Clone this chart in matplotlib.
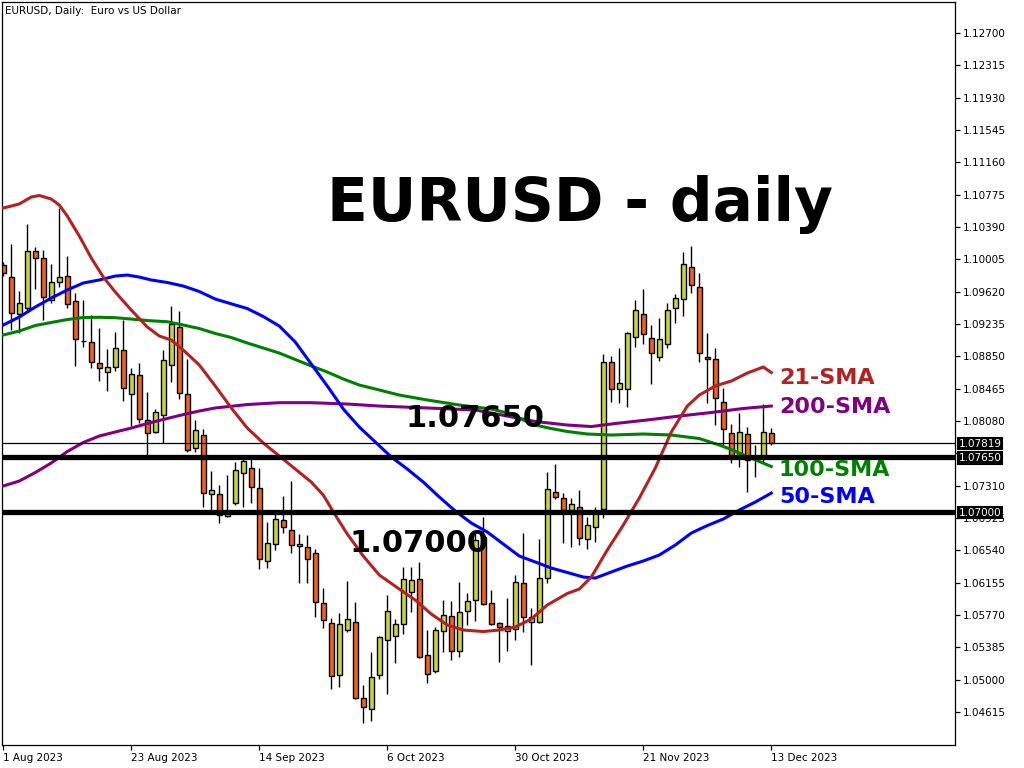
import matplotlib

matplotlib.use("Agg")
import matplotlib.pyplot as plt
import matplotlib.transforms as mtransforms
import numpy as np

# EURUSD daily bars, 1 Aug 2023 .. 13 Dec 2023 (x = trading-day index)
opens = [1.09936, 1.09793, 1.09353, 1.09424, 1.10103, 1.10020, 1.09520, 1.09734, 1.09805, 1.09508,
         1.09031, 1.09019, 1.08769, 1.08662, 1.08722, 1.08924, 1.08400, 1.08627, 1.08091, 1.07948,
         1.08150, 1.08746, 1.09198, 1.08400, 1.07757, 1.07912, 1.07209, 1.07209, 1.06947, 1.07102,
         1.07459, 1.07519, 1.07281, 1.06412, 1.06614, 1.06900, 1.06781, 1.06590, 1.06578, 1.06507,
         1.05911, 1.05673, 1.05054, 1.05590, 1.05685, 1.04780, 1.04649, 1.05054, 1.05471, 1.05518,
         1.05661, 1.06042, 1.06197, 1.05292, 1.05102, 1.05578, 1.05757, 1.05340, 1.05816, 1.05947,
         1.06697, 1.05911, 1.05673, 1.05578, 1.05602, 1.06150, 1.05685, 1.05685, 1.06209, 1.07233,
         1.07162, 1.07019, 1.07055, 1.06674, 1.06816, 1.07031, 1.08781, 1.08460, 1.08460, 1.09079,
         1.09353, 1.09067, 1.08841, 1.08996, 1.09424, 1.09531, 1.09913, 1.09674, 1.08841, 1.08817,
         1.08305, 1.07936, 1.07662, 1.07924, 1.07662, 1.07662, 1.07936]
highs = [1.09972, 1.10186, 1.09627, 1.10425, 1.10151, 1.10115, 1.09948, 1.10615, 1.10044, 1.09603,
         1.09520, 1.09341, 1.09186, 1.08936, 1.09139, 1.09281, 1.08710, 1.08769, 1.08424, 1.08222,
         1.08924, 1.09448, 1.09389, 1.08817, 1.08091, 1.07983, 1.07483, 1.07317, 1.07436, 1.07590,
         1.07674, 1.07650, 1.07519, 1.06876, 1.06971, 1.07186, 1.07364, 1.06733, 1.06721, 1.06555,
         1.06090, 1.05733, 1.05792, 1.06173, 1.05923, 1.04935, 1.05328, 1.05518, 1.06007, 1.05721,
         1.06340, 1.06340, 1.06400, 1.05590, 1.05626, 1.05947, 1.05935, 1.06162, 1.06031, 1.06781,
         1.06936, 1.06066, 1.05685, 1.05971, 1.06245, 1.06745, 1.05852, 1.06674, 1.07471, 1.07567,
         1.07221, 1.07162, 1.07257, 1.06936, 1.07055, 1.08877, 1.08853, 1.08948, 1.09139, 1.09520,
         1.09651, 1.09222, 1.09305, 1.09484, 1.09591, 1.10091, 1.10163, 1.09841, 1.09127, 1.08948,
         1.08472, 1.08043, 1.08174, 1.08007, 1.07793, 1.08281, 1.07995]
lows = [1.09805, 1.09162, 1.09127, 1.09377, 1.09651, 1.09281, 1.09484, 1.09674, 1.09424, 1.08734,
        1.08960, 1.08710, 1.08555, 1.08436, 1.08674, 1.08317, 1.08019, 1.08055, 1.07674, 1.07936,
        1.07817, 1.08543, 1.08341, 1.07710, 1.07710, 1.07055, 1.06983, 1.06864, 1.06936, 1.07078,
        1.07055, 1.07102, 1.06316, 1.06328, 1.06543, 1.06745, 1.06507, 1.06150, 1.06150, 1.05745,
        1.05614, 1.04887, 1.04911, 1.05566, 1.04768, 1.04482, 1.04506, 1.05006, 1.04828, 1.05197,
        1.05542, 1.05804, 1.05256, 1.04959, 1.05078, 1.05328, 1.05233, 1.05268, 1.05650, 1.05697,
        1.05888, 1.05650, 1.05209, 1.05340, 1.05471, 1.05566, 1.05173, 1.05673, 1.06150, 1.07150,
        1.06626, 1.06578, 1.06602, 1.06555, 1.06638, 1.06924, 1.08305, 1.08293, 1.08245, 1.08960,
        1.08996, 1.08519, 1.08793, 1.08948, 1.09246, 1.09329, 1.09603, 1.08781, 1.08293, 1.08031,
        1.07793, 1.07579, 1.07531, 1.07233, 1.07412, 1.07590, 1.07793]
closes = [1.09841, 1.09365, 1.09484, 1.10103, 1.10020, 1.09555, 1.09734, 1.09793, 1.09472, 1.09055,
          1.09031, 1.08781, 1.08710, 1.08722, 1.08948, 1.08472, 1.08638, 1.08103, 1.07936, 1.08186,
          1.08805, 1.09234, 1.08412, 1.07733, 1.07972, 1.07221, 1.07257, 1.06959, 1.06983, 1.07495,
          1.07602, 1.07293, 1.06435, 1.06626, 1.06912, 1.06816, 1.06602, 1.06614, 1.06435, 1.05923,
          1.05709, 1.05042, 1.05661, 1.05721, 1.04780, 1.04673, 1.05030, 1.05507, 1.05816, 1.05661,
          1.06197, 1.06185, 1.05268, 1.05066, 1.05590, 1.05769, 1.05340, 1.05804, 1.05935, 1.06662,
          1.05900, 1.05661, 1.05626, 1.05638, 1.06162, 1.05745, 1.05745, 1.06209, 1.07269, 1.07174,
          1.07019, 1.07090, 1.06685, 1.06840, 1.06983, 1.08781, 1.08460, 1.08531, 1.09127, 1.09400,
          1.09115, 1.08888, 1.09055, 1.09400, 1.09543, 1.09948, 1.09698, 1.08888, 1.08817, 1.08353,
          1.07983, 1.07674, 1.07948, 1.07614, 1.07638, 1.07948, 1.07819]

# moving averages (bar index, price)
sma21_x = [0, 2, 3.5, 4.5, 6, 7, 8, 9.5, 11, 12.5, 14, 16, 18, 19.5, 21, 22.5, 24.5, 26.5, 28.5, 30.5,
           32.5, 34.5, 36.5, 38.5, 40, 41.5, 43, 45, 47, 49.5, 51.5, 53.5, 55.5, 57.5, 60, 62, 64, 66, 68,
           70.5, 72, 73.5, 75.5, 77.5, 79.5, 81.5, 83.5, 85.5, 87, 89, 91, 93, 95, 96]
sma21 = [1.10615, 1.10663, 1.10746, 1.10764, 1.10722, 1.10651, 1.10520, 1.10282, 1.10020, 1.09793,
         1.09615, 1.09400, 1.09198, 1.09091, 1.09043, 1.08924, 1.08746, 1.08496, 1.08234, 1.07995,
         1.07817, 1.07662, 1.07507, 1.07352, 1.07197, 1.06959, 1.06733, 1.06471, 1.06245, 1.06078,
         1.05947, 1.05780, 1.05650, 1.05590, 1.05572, 1.05590, 1.05626, 1.05721, 1.05888, 1.06025,
         1.06078, 1.06221, 1.06543, 1.06840, 1.07162, 1.07519, 1.07948, 1.08257, 1.08388, 1.08496,
         1.08555, 1.08650, 1.08722, 1.08656]
sma50_x = [0, 2, 4, 6, 8, 10, 12, 14, 15.5, 17, 18.5, 20.5, 22.5, 24.5, 26.5, 29, 30.5, 32.5, 34.5,
           36.5, 38.5, 40.5, 42.5, 44.5, 46.5, 48.5, 50.5, 52.5, 54.5, 56.5, 58.5, 60.5, 62.5, 64.5,
           66.5, 68.5, 70.5, 72.5, 74, 76, 78, 80, 82, 84, 86, 88, 90, 92, 94, 96]
sma50 = [1.09222, 1.09317, 1.09436, 1.09543, 1.09639, 1.09722, 1.09758, 1.09805, 1.09817, 1.09793,
         1.09758, 1.09728, 1.09686, 1.09621, 1.09531, 1.09460, 1.09418, 1.09323, 1.09210, 1.09019,
         1.08757, 1.08496, 1.08222, 1.08007, 1.07829, 1.07650, 1.07507, 1.07352, 1.07174, 1.07007,
         1.06864, 1.06757, 1.06614, 1.06471, 1.06400, 1.06328, 1.06275, 1.06221, 1.06209, 1.06281,
         1.06352, 1.06412, 1.06483, 1.06602, 1.06745, 1.06834, 1.06912, 1.07019, 1.07114, 1.07221]
sma100_x = [0, 2, 4, 6, 8, 10, 12, 14, 16, 18, 20.5, 22.5, 24.5, 26.5, 28.5, 30.5, 34.5, 38.5, 40.5,
            42.5, 44.5, 46.5, 49.5, 53, 57, 61, 63, 65, 66.5, 68.5, 70.5, 73, 76, 80, 83.5, 85.5, 87,
            89.5, 91, 93, 96]
sma100 = [1.09103, 1.09150, 1.09216, 1.09252, 1.09287, 1.09311, 1.09314, 1.09309, 1.09293, 1.09275,
          1.09261, 1.09222, 1.09180, 1.09121, 1.09073, 1.09008, 1.08888, 1.08734, 1.08662, 1.08579,
          1.08507, 1.08460, 1.08388, 1.08329, 1.08269, 1.08222, 1.08174, 1.08091, 1.08031, 1.07989,
          1.07954, 1.07924, 1.07912, 1.07924, 1.07912, 1.07888, 1.07870, 1.07793, 1.07739, 1.07656,
          1.07537]
sma200_x = [0, 2, 4, 6, 8, 10, 12, 14, 16, 18, 20, 22, 24.5, 26.5, 30.5, 34.5, 38.5, 43, 47, 53, 59,
            62, 66.5, 70.5, 73.5, 76.5, 80.5, 84.5, 88.5, 92.5, 96]
sma200 = [1.07305, 1.07364, 1.07465, 1.07579, 1.07715, 1.07823, 1.07900, 1.07948, 1.07995, 1.08049,
          1.08097, 1.08144, 1.08198, 1.08234, 1.08275, 1.08297, 1.08297, 1.08281, 1.08257, 1.08234,
          1.08210, 1.08156, 1.08073, 1.08031, 1.08013, 1.08049, 1.08091, 1.08138, 1.08180, 1.08228,
          1.08257]

last_price = 1.07819
levels = [1.07650, 1.07000]

price_ticks = [1.04615, 1.05000, 1.05385, 1.05770, 1.06155, 1.06540, 1.06925, 1.07310, 1.07695,
               1.08080, 1.08465, 1.08850, 1.09235, 1.09620, 1.10005, 1.10390, 1.10775, 1.11160,
               1.11545, 1.11930, 1.12315, 1.12700]
hidden_tick = 1.07695  # sits under the price tags, not shown
date_pos = [0, 16, 32, 48, 64, 80, 96]
date_labels = ["1 Aug 2023", "23 Aug 2023", "14 Sep 2023", "6 Oct 2023",
               "30 Oct 2023", "21 Nov 2023", "13 Dec 2023"]

BULL = "#c8d43a"
BEAR = "#f0621f"

fig = plt.figure(figsize=(10.24, 7.68), dpi=100)
ax = fig.add_axes([1.5 / 1024, 23 / 768, 953.5 / 1024, 743.5 / 768])

o = np.array(opens)
h = np.array(highs)
l = np.array(lows)
c = np.array(closes)
x = np.arange(len(o))

# candles: wick first, body on top
ax.vlines(x, l, h, color="black", lw=1.0, zorder=2)
body_lo = np.minimum(o, c)
body_h = np.maximum(np.abs(c - o), 0.00002)
colors = np.where(c > o, BULL, np.where(c < o, BEAR, "black"))
ax.bar(x, body_h, bottom=body_lo, width=0.62, color=colors, edgecolor="black",
       linewidth=1.0, zorder=2.5)

# moving averages
ax.plot(sma200_x, sma200, color="#800080", lw=2.2, zorder=3)
ax.plot(sma100_x, sma100, color="#008000", lw=2.2, zorder=3)
ax.plot(sma50_x, sma50, color="#0000ff", lw=2.2, zorder=3)
ax.plot(sma21_x, sma21, color="#b22222", lw=2.2, zorder=3)

# price lines
ax.axhline(last_price, color="black", lw=0.9, zorder=3.5)
for lv in levels:
    ax.axhline(lv, color="black", lw=3.8, zorder=3.6)

ax.set_xlim(-0.22, 118.96)
ax.set_ylim(1.04221, 1.13074)

ax.yaxis.tick_right()
ax.set_yticks(price_ticks)
ax.set_yticklabels(["" if v == hidden_tick else f"{v:.5f}" for v in price_ticks])
ax.set_xticks(date_pos)
ax.set_xticklabels(date_labels, ha="left")
ax.tick_params(axis="both", direction="out", length=3.5, width=0.9, labelsize=7.5,
               colors="black", pad=2)
for sp in ax.spines.values():
    sp.set_linewidth(0.9)
    sp.set_color("black")

# boxed price tags on the right scale
tr = mtransforms.blended_transform_factory(ax.transAxes, ax.transData)
for val in [last_price] + levels:
    ax.text(1.0035, val, f"{val:.5f}", transform=tr, ha="left", va="center_baseline",
            color="white", fontsize=7.5, zorder=10, clip_on=False,
            bbox=dict(boxstyle="square,pad=0.06", fc="black", ec="black", lw=1.5))

fig.text(5 / 1024, 1 - 11 / 768, "EURUSD, Daily:  Euro vs US Dollar", fontsize=7.5,
         va="center", ha="left")

# annotations
ax.text(72.1, 1.10651, "EURUSD - daily", fontsize=43, fontweight="bold", ha="center",
        va="center", zorder=6)
ax.text(58.97, 1.08108, "1.07650", fontsize=22, fontweight="bold", ha="center", va="center",
        zorder=6)
ax.text(51.96, 1.06620, "1.07000", fontsize=22, fontweight="bold", ha="center", va="center",
        zorder=6)
ax.text(96.96, 1.08591, "21-SMA", fontsize=16, fontweight="bold", color="#b22222",
        ha="left", va="center", zorder=6)
ax.text(96.96, 1.08245, "200-SMA", fontsize=16, fontweight="bold", color="#800080",
        ha="left", va="center", zorder=6)
ax.text(96.96, 1.07495, "100-SMA", fontsize=16, fontweight="bold", color="#008000",
        ha="left", va="center", zorder=6)
ax.text(96.96, 1.07174, "50-SMA", fontsize=16, fontweight="bold", color="#0000ff",
        ha="left", va="center", zorder=6)

fig.savefig("out.png", dpi=100, facecolor="white")
